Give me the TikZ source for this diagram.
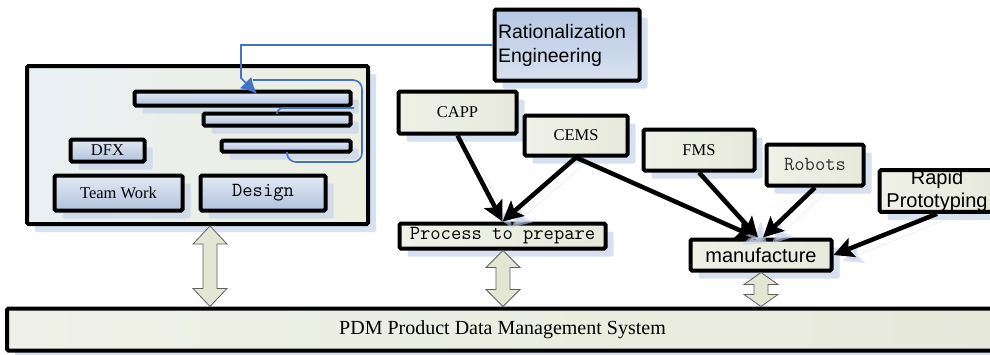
\documentclass[tikz,border=0pt]{standalone}
\usepackage{fontspec}
\setmainfont{Liberation Serif}
\setsansfont{Liberation Sans}
\usetikzlibrary{arrows.meta,shadows,calc}

\definecolor{shadowblue}{HTML}{C6D3E8}
\definecolor{barlight}{HTML}{E2E9F4}
\definecolor{bardark}{HTML}{B2C3DD}
\definecolor{ratdark}{HTML}{B6C7E2}
\definecolor{ratlight}{HTML}{D8E1EF}
\definecolor{boxleft}{HTML}{EFF1E8}
\definecolor{boxright}{HTML}{E6E9DA}
\definecolor{frameleft}{HTML}{EAEFF4}
\definecolor{frameright}{HTML}{ECEFE0}
\definecolor{loopblue}{HTML}{4472C4}
\definecolor{dblfill}{HTML}{E2E6D3}

\tikzset{
  box/.style={draw=black, line width=4pt, rounded corners=1.5pt, inner sep=0pt,
    drop shadow={shadow xshift=8pt, shadow yshift=-8pt, fill=shadowblue, opacity=.7}},
  greenbox/.style={box, left color=boxleft, right color=boxright},
  bluebar/.style={box, top color=barlight, bottom color=bardark},
  txtserif/.style={font=\fontsize{16.5}{19}\selectfont},
  txtmono/.style={font=\ttfamily\fontsize{20}{22}\selectfont},
  txtsans/.style={font=\sffamily\fontsize{20}{23}\selectfont},
  feed/.style={line width=4.5pt, -{Stealth[length=20pt,width=20pt,inset=4pt]},
    preaction={draw=shadowblue, opacity=.6, transform canvas={shift={(9pt,-6pt)}}}},
  loopline/.style={draw=loopblue, line width=1.6pt, rounded corners=9pt},
  dbl/.style={draw=gray!75!black, line width=0.8pt, fill=dblfill}
}

% hollow double arrow between two boxes: x, upper node, lower node, head length
\newcommand\pdmlink[4]{%
  \path[dbl] let \p0=(#1,0), \p1=(#2.south), \p2=(#3.north) in
    (\x0,\y1) -- (\x0+17pt,\y1-#4) -- (\x0+7pt,\y1-#4) -- (\x0+7pt,\y2+#4)
    -- (\x0+17pt,\y2+#4) -- (\x0,\y2) -- (\x0-17pt,\y2+#4) -- (\x0-7pt,\y2+#4)
    -- (\x0-7pt,\y1-#4) -- (\x0-17pt,\y1-#4) -- cycle;}

\begin{document}
\begin{tikzpicture}[x=1pt,y=-1pt]
  \useasboundingbox (0,0) rectangle (990,354);
  \clip (0,0) rectangle (990,354);

  % design side
  \node[box, left color=frameleft, right color=frameright,
    minimum width=341, minimum height=158] (frame) at (197.5,145) {};
  \node[bluebar, minimum width=216, minimum height=14] (bar1) at (242.5,98.5) {};
  \node[bluebar, minimum width=147, minimum height=12] (bar2) at (277,119.5) {};
  \node[bluebar, minimum width=129, minimum height=11] (bar3) at (286,146) {};
  \node[bluebar, txtserif, minimum width=74, minimum height=22] (dfx) at (107.5,150.5) {DFX};
  \node[bluebar, txtserif, minimum width=128, minimum height=35] (team) at (118.5,193) {Team Work};
  \node[bluebar, txtmono, minimum width=125, minimum height=35] (design) at (263,193) {Design};

  % rationalization
  \node[box, top color=ratdark, bottom color=ratlight, txtsans, font=\sffamily\fontsize{19.5}{24}\selectfont,
    minimum width=145, minimum height=71, text width=138pt, align=left, text depth=27pt]
    (rat) at (567,45) {Rationalization\\Engineering};
  \draw[loopline, rounded corners=0pt, -{Latex[length=16pt,width=16pt]}]
    (rat.west) -| (241,78) -- (257,94);
  \draw[loopline] (253,80) -- (362,80) -- (362,162) -- (287,162) -- (287,152);
  \draw[loopline, rounded corners=6pt] (277,114) |- (354,108);

  % process planning
  \node[greenbox, txtserif, minimum width=118, minimum height=42] (capp) at (457.5,112.5) {CAPP};
  \node[greenbox, txtserif, minimum width=103, minimum height=40] (cems) at (576,135.5) {CEMS};
  \node[greenbox, txtmono, minimum width=206, minimum height=25] (proc) at (502.5,236) {Process to prepare};

  % manufacturing
  \node[greenbox, txtserif, minimum width=111, minimum height=41] (fms) at (699,150) {FMS};
  \node[greenbox, txtmono, text=black!80, minimum width=97, minimum height=41] (robots) at (815,165) {Robots};
  \node[greenbox, txtsans, minimum width=115, minimum height=41, align=center] (rapid) at (937,191)
    {Rapid\\Prototyping};
  \node[greenbox, txtsans, minimum width=141, minimum height=31] (manu) at (761,255) {manufacture};

  % PDM
  \node[greenbox, font=\fontsize{20}{22}\selectfont, minimum width=991, minimum height=42]
    (pdm) at (502.5,329.5) {PDM Product Data Management System};

  \draw[feed] (capp.south) -- (proc.north);
  \draw[feed] (cems.south) -- (proc.north);
  \draw[feed] (cems.south) -- ($(manu.north)+(-5,0)$);
  \draw[feed] (fms.south) -- ($(manu.north)+(-3,0)$);
  \draw[feed] (robots.south) -- ($(manu.north)+(2,0)$);
  \draw[feed] (rapid.south) -- (manu.east);

  \pdmlink{210}{frame}{pdm}{18pt}
  \pdmlink{503}{proc}{pdm}{17pt}
  \pdmlink{761}{manu}{pdm}{12pt}
\end{tikzpicture}
\end{document}
